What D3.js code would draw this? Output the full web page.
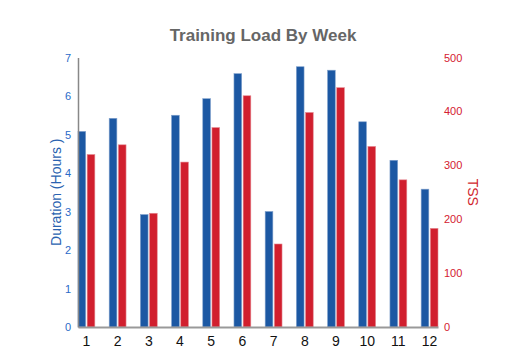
<!DOCTYPE html>
<html><head><meta charset="utf-8">
<script src="https://cdn.jsdelivr.net/npm/d3@7"></script>
<style>body{margin:0;background:#fff;font-family:"Liberation Sans",Arial,sans-serif}</style>
</head><body><svg id="c" width="525" height="350"></svg>
<script>
const weeks = ["1","2","3","4","5","6","7","8","9","10","11","12"];
const duration = [5.08, 5.42, 2.92, 5.5, 5.93, 6.58, 3.0, 6.76, 6.67, 5.33, 4.33, 3.58];
const tss = [320, 338, 211, 306, 370, 429, 154, 398, 444, 335, 273, 183];
const durTicks = [0,1,2,3,4,5,6,7];
const tssTicks = [0,100,200,300,400,500];

const svg = d3.select("#c");
const pLeft = 78, pRight = 438, pTop = 57.5, pBottom = 327;
const x = d3.scaleBand().domain(weeks).range([pLeft, pRight]).paddingInner(0.46).paddingOuter(0);
const yL = d3.scaleLinear().domain([0,7]).range([pBottom, pTop]);
const yR = d3.scaleLinear().domain([0,500]).range([pBottom, pTop]);
const bw = x.bandwidth();
const barW = (bw - 1.5) / 2;

const blue = "#1c58a3", red = "#d11f2e";

svg.append("text").attr("x", 263).attr("y", 41).attr("text-anchor","middle")
  .attr("font-size", 17).attr("font-weight","bold").attr("fill","#666").text("Training Load By Week");

// bars
const g = svg.append("g");
g.selectAll("rect.d").data(duration).join("rect").attr("class","d")
  .attr("x",(d,i)=>x(weeks[i])).attr("width",barW)
  .attr("y",d=>yL(d)).attr("height",d=>pBottom-yL(d))
  .attr("fill",blue).attr("stroke","#7fa0cc").attr("stroke-width",0.6);
g.selectAll("rect.t").data(tss).join("rect").attr("class","t")
  .attr("x",(d,i)=>x(weeks[i])+bw-barW).attr("width",barW)
  .attr("y",d=>yR(d)).attr("height",d=>pBottom-yR(d))
  .attr("fill",red).attr("stroke","#e58a92").attr("stroke-width",0.6);

// left axis
const la = svg.append("g").attr("transform",`translate(${pLeft},0)`)
  .call(d3.axisLeft(yL).tickValues(durTicks).tickFormat(d3.format("d")).tickSize(0).tickPadding(7));
la.select(".domain").attr("stroke","#888").attr("stroke-width",1.5);
la.selectAll("text").attr("fill","#2a6ac8").attr("font-size",11).attr("font-family","Liberation Sans, Arial, sans-serif");

// right axis
const ra = svg.append("g").attr("transform",`translate(${pRight},0)`)
  .call(d3.axisRight(yR).tickValues(tssTicks).tickFormat(d3.format("d")).tickSize(0).tickPadding(6));
ra.select(".domain").remove();
ra.selectAll("text").attr("fill","#d42030").attr("font-size",11).attr("font-family","Liberation Sans, Arial, sans-serif");

// x axis
const xa = svg.append("g").attr("transform",`translate(0,${pBottom})`)
  .call(d3.axisBottom(x).tickSize(0).tickPadding(9));
xa.select(".domain").attr("stroke","#999").attr("stroke-width",2);
xa.selectAll("text").attr("fill","#111").attr("font-size",14).attr("font-family","Liberation Sans, Arial, sans-serif");

svg.append("text").attr("transform",`translate(61,${(pTop+pBottom)/2}) rotate(-90)`)
  .attr("text-anchor","middle").attr("font-size",14).attr("fill","#2a62b0").text("Duration (Hours )");
svg.append("text").attr("transform",`translate(468,${(pTop+pBottom)/2}) rotate(90)`)
  .attr("text-anchor","middle").attr("font-size",14).attr("fill","#d11f2e").text("TSS");
</script></body></html>
